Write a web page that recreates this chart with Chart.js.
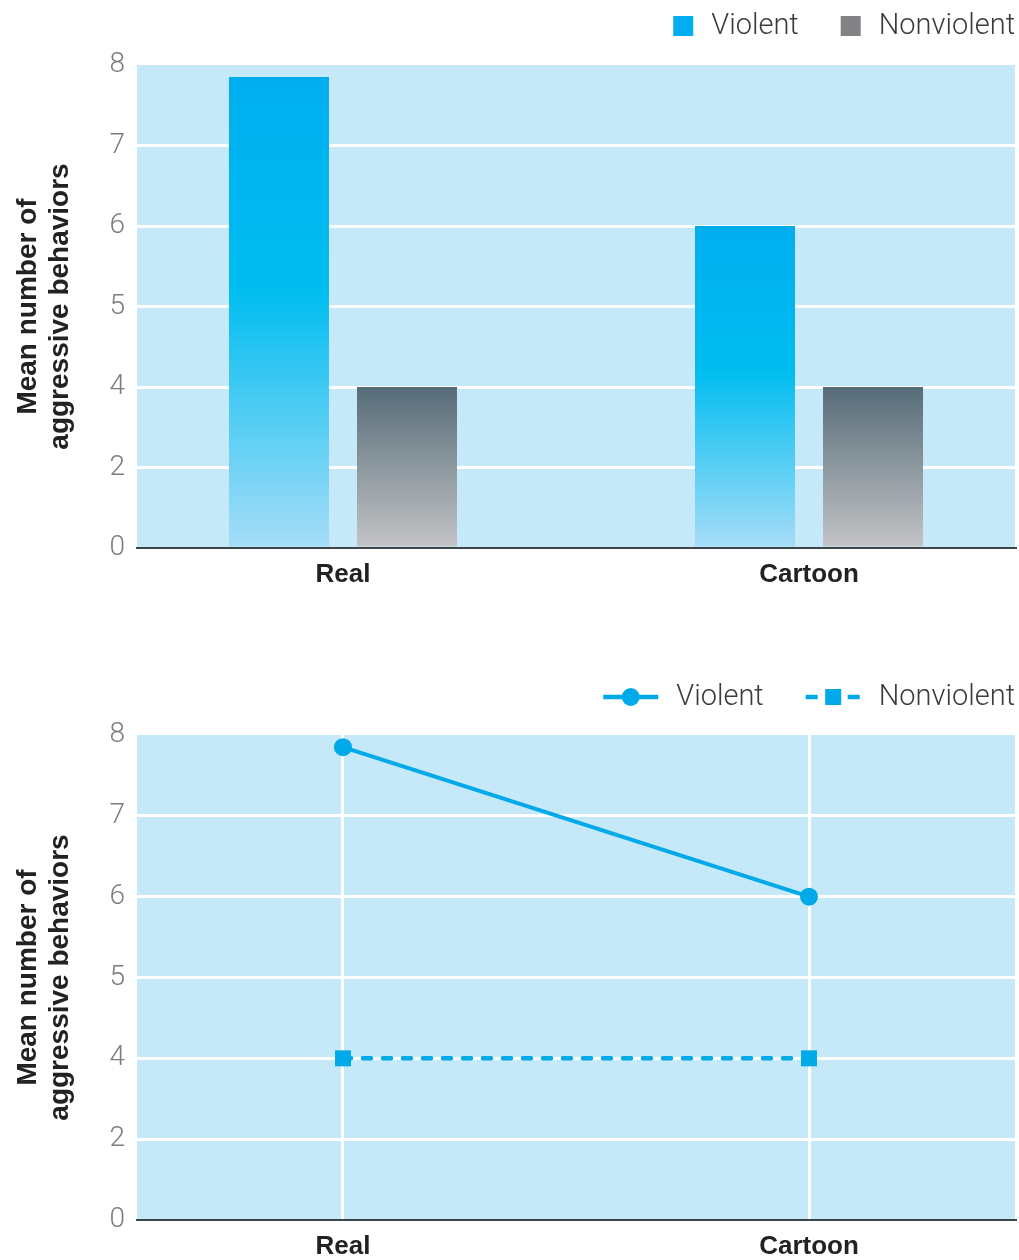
<!DOCTYPE html>
<html lang="en">
<head>
<meta charset="UTF-8">
<title>Mean number of aggressive behaviors</title>
<script src="https://cdn.jsdelivr.net/npm/chart.js"></script>
<style>
  body { margin: 0; background: #fff; }
  .panel { width: 1019px; height: 630px; }
</style>
</head>
<body>
<div class="panel"><canvas id="barChart" width="1019" height="630"></canvas></div>
<div class="panel"><canvas id="lineChart" width="1019" height="630"></canvas></div>

<script>
const categories = ['Real', 'Cartoon'];
const violent = [7.85, 6.0];
const nonviolent = [4.0, 4.0];
const yTickValues = [0, 2, 4, 5, 6, 7, 8];
const yTickLabels = ['0', '2', '4', '5', '6', '7', '8'];

// value axis is uneven: every tick gets one equal slot, so map values onto slots
function toSlot(v) {
  for (let i = 1; i < yTickValues.length; i++) {
    if (v <= yTickValues[i]) {
      const a = yTickValues[i - 1], b = yTickValues[i];
      return (i - 1) + (v - a) / (b - a);
    }
  }
  return yTickValues.length - 1;
}

Chart.defaults.animation = false;
Chart.defaults.font.family = 'Roboto';

const BLUE = '#00a9e8';
const lastSlot = yTickValues.length - 1;

const plotBackground = {
  id: 'plotBackground',
  beforeDraw(chart) {
    const { ctx, chartArea: a } = chart;
    ctx.save();
    ctx.fillStyle = '#c6e9f9';
    ctx.fillRect(a.left, a.top, a.right - a.left, a.bottom - a.top);
    ctx.restore();
  }
};

// legend in the top right corner, laid out from the right edge
const cornerLegend = {
  id: 'cornerLegend',
  afterDraw(chart, args, opts) {
    const ctx = chart.ctx;
    ctx.save();
    ctx.font = '300 29px Roboto';
    ctx.textBaseline = 'middle';
    let x = opts.right;
    const y = opts.y;
    chart.data.datasets.slice().reverse().forEach(ds => {
      const w = ctx.measureText(ds.label).width;
      x -= w;
      ctx.fillStyle = '#3c3c3c';
      ctx.fillText(ds.label, x, y + 1);
      x -= 18;
      if (opts.symbol === 'box') {
        ctx.fillStyle = ds.legendColor;
        ctx.fillRect(x - 20, y - 10, 20, 20);
        x -= 20;
      } else {
        const sx = x - 55;
        ctx.strokeStyle = ds.borderColor;
        ctx.lineWidth = 4.5;
        ctx.setLineDash(ds.borderDash ? [12, 9] : []);
        ctx.beginPath();
        ctx.moveTo(sx, y);
        ctx.lineTo(x, y);
        ctx.stroke();
        ctx.setLineDash([]);
        ctx.fillStyle = ds.borderColor;
        const cx = sx + 27.5;
        if (ds.pointStyle === 'rect') {
          ctx.fillRect(cx - 8, y - 8, 16, 16);
        } else {
          ctx.beginPath();
          ctx.arc(cx, y, 9, 0, Math.PI * 2);
          ctx.fill();
        }
        x = sx;
      }
      x -= 42;
    });
    ctx.restore();
  }
};

function barGradient(context, stops) {
  const chart = context.chart;
  if (!chart.chartArea || !context.parsed) return stops[0][1];
  const y = chart.scales.y;
  const top = y.getPixelForValue(context.parsed.y);
  const base = y.getPixelForValue(0);
  const g = chart.ctx.createLinearGradient(0, top, 0, base);
  stops.forEach(([o, c]) => g.addColorStop(o, c));
  return g;
}

const violentStops = [[0, '#00aeef'], [0.45, '#00bdf0'], [1, '#a6ddf7']];
const grayStops = [[0, '#566c78'], [1, '#c4c4c6']];

function yAxis() {
  return {
    min: 0,
    max: lastSlot,
    afterFit(s) {
      s.width = 137;
      s.paddingTop = 0;
      s.paddingBottom = 0;
    },
    ticks: {
      stepSize: 1,
      padding: 12,
      color: '#7d7d7d',
      font: { size: 28, weight: '300' },
      callback: v => yTickLabels[v]
    },
    grid: {
      drawTicks: false,
      lineWidth: 3,
      color: c => (c.tick && c.tick.value > 0 && c.tick.value < lastSlot) ? '#ffffff' : 'rgba(0,0,0,0)'
    },
    border: { display: false },
    title: {
      display: true,
      text: ['Mean number of', 'aggressive behaviors'],
      color: '#222',
      font: { size: 28, weight: 'bold', family: 'Liberation Sans', lineHeight: 1.15 },
      padding: { top: 12, bottom: 0 }
    }
  };
}

function xAxis(showGrid, height) {
  return {
    type: 'linear',
    bounds: 'data',
    offset: false,
    min: -0.442,
    max: 1.442,
    afterBuildTicks(s) { s.ticks = categories.map((c, i) => ({ value: i })); },
    afterFit(s) {
      s.height = height;
      s.paddingLeft = 0;
      s.paddingRight = 0;
    },
    ticks: {
      padding: 11,
      color: '#222',
      autoSkip: false,
      maxRotation: 0,
      font: { size: 26, weight: 'bold', family: 'Liberation Sans' },
      callback: v => categories[v]
    },
    grid: { display: showGrid, offset: false, drawTicks: false, color: '#ffffff', lineWidth: 3 },
    border: { display: true, color: '#3a454c', width: 2 }
  };
}

new Chart(document.getElementById('barChart'), {
  type: 'bar',
  data: {
    datasets: [
      {
        label: 'Violent',
        data: categories.map((c, i) => ({ x: i, y: toSlot(violent[i]) })),
        backgroundColor: ctx => barGradient(ctx, violentStops),
        legendColor: '#00aeef'
      },
      {
        label: 'Nonviolent',
        data: categories.map((c, i) => ({ x: i, y: toSlot(nonviolent[i]) })),
        backgroundColor: ctx => barGradient(ctx, grayStops),
        legendColor: '#808285'
      }
    ]
  },
  options: {
    responsive: false,
    categoryPercentage: 0.5494,
    barPercentage: 0.78125,
    layout: { autoPadding: false, padding: { top: 65, right: 4, left: 0, bottom: 0 } },
    scales: { x: xAxis(false, 82), y: yAxis() },
    plugins: {
      legend: { display: false },
      tooltip: { enabled: false },
      cornerLegend: { right: 1015, y: 26, symbol: 'box' }
    }
  },
  plugins: [plotBackground, cornerLegend]
});

new Chart(document.getElementById('lineChart'), {
  type: 'line',
  data: {
    datasets: [
      {
        label: 'Violent',
        data: categories.map((c, i) => ({ x: i, y: toSlot(violent[i]) })),
        borderColor: BLUE,
        backgroundColor: BLUE,
        borderWidth: 4,
        pointStyle: 'circle',
        pointRadius: 9,
        pointBorderWidth: 0
      },
      {
        label: 'Nonviolent',
        data: categories.map((c, i) => ({ x: i, y: toSlot(nonviolent[i]) })),
        borderColor: BLUE,
        backgroundColor: BLUE,
        borderWidth: 4.5,
        borderDash: [8, 12],
        borderCapStyle: 'round',
        pointStyle: 'rect',
        pointRadius: 11.3,
        pointBorderWidth: 0
      }
    ]
  },
  options: {
    responsive: false,
    layout: { autoPadding: false, padding: { top: 105, right: 4, left: 0, bottom: 0 } },
    scales: { x: xAxis(true, 40), y: yAxis() },
    plugins: {
      legend: { display: false },
      tooltip: { enabled: false },
      cornerLegend: { right: 1015, y: 67, symbol: 'line' }
    }
  },
  plugins: [plotBackground, cornerLegend]
});
</script>
</body>
</html>
